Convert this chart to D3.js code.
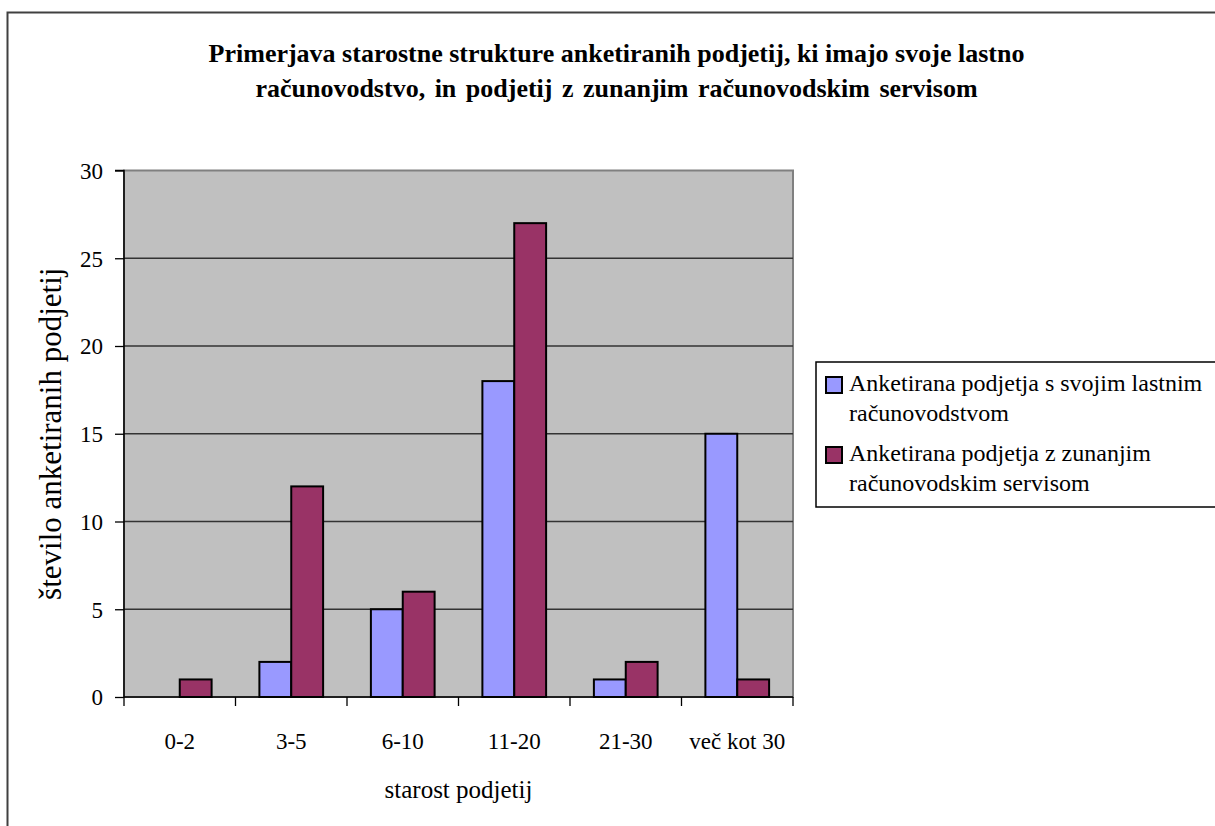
<!DOCTYPE html>
<html>
<head>
<meta charset="utf-8">
<script src="https://cdn.jsdelivr.net/npm/d3@7"></script>
<style>
  html, body { margin: 0; padding: 0; background: #fff; }
  svg { display: block; }
  text { font-family: "Liberation Serif", "Times New Roman", serif; fill: #000; }
</style>
</head>
<body>
<svg id="chart" width="1215" height="826"></svg>
<script>
// Starostne skupine podjetij (leta)
const categories = ["0-2", "3-5", "6-10", "11-20", "21-30", "več kot 30"];
// Podjetja z lastnim računovodstvom
const ownAccounting = [0, 2, 5, 18, 1, 15];
// Podjetja z zunanjim računovodskim servisom
const externalService = [1, 12, 6, 27, 2, 1];
const seriesNames = [
  ["Anketirana podjetja s svojim lastnim", "računovodstvom"],
  ["Anketirana podjetja z zunanjim", "računovodskim servisom"]
];
const seriesColors = ["#9999FF", "#993366"];
const yTicks = [0, 5, 10, 15, 20, 25, 30];
const titleLines = [
  "Primerjava starostne strukture anketiranih podjetij, ki imajo svoje lastno",
  "računovodstvo, in podjetij z zunanjim računovodskim servisom"
];
const xTitle = "starost podjetij";
const yTitle = "število anketiranih podjetij";

const svg = d3.select("#chart");

// chart area frame
svg.append("rect")
  .attr("x", 7.5).attr("y", 12.5)
  .attr("width", 1240).attr("height", 840)
  .attr("fill", "#fff").attr("stroke", "#404040").attr("stroke-width", 2);

// title
svg.append("g").selectAll("text").data(titleLines).join("text")
  .attr("x", 616.5)
  .attr("y", (d, i) => 62 + i * 35)
  .attr("text-anchor", "middle")
  .attr("font-weight", "bold")
  .attr("font-size", 26)
  .attr("word-spacing", (d, i) => i === 1 ? 3 : 0)
  .text(d => d);

const plot = { left: 124, right: 793, top: 170.5, bottom: 697 };

const x0 = d3.scaleBand().domain(categories).range([plot.left, plot.right]).paddingInner(0).paddingOuter(0);
const groupW = x0.bandwidth() * 2 / 3.5;
const x1 = d3.scaleBand().domain([0, 1]).range([0, groupW]);
const y = d3.scaleLinear().domain([0, 30]).range([plot.bottom, plot.top]);

// plot background
svg.append("rect")
  .attr("x", plot.left).attr("y", plot.top)
  .attr("width", plot.right - plot.left).attr("height", plot.bottom - plot.top)
  .attr("fill", "#C0C0C0").attr("stroke", "#808080").attr("stroke-width", 2);

// horizontal gridlines
svg.append("g").selectAll("line").data(yTicks.filter(t => t > 0 && t < 30)).join("line")
  .attr("x1", plot.left).attr("x2", plot.right)
  .attr("y1", d => y(d)).attr("y2", d => y(d))
  .attr("stroke", "#333").attr("stroke-width", 1.3);

// bars
const rows = categories.map((c, i) => ({ c, vals: [ownAccounting[i], externalService[i]] }));
const groups = svg.append("g").selectAll("g").data(rows).join("g")
  .attr("transform", d => `translate(${x0(d.c) + (x0.bandwidth() - groupW) / 2},0)`);
groups.selectAll("rect").data(d => d.vals.map((v, k) => ({ v, k }))).join("rect")
  .attr("x", d => x1(d.k))
  .attr("width", x1.bandwidth())
  .attr("y", d => y(d.v))
  .attr("height", d => y(0) - y(d.v))
  .attr("fill", d => seriesColors[d.k])
  .attr("stroke", "#000").attr("stroke-width", d => d.v > 0 ? 2 : 0);

// y axis
const yAxis = svg.append("g")
  .attr("transform", `translate(${plot.left},0)`)
  .call(d3.axisLeft(y).tickValues(yTicks).tickSize(9).tickPadding(12));
yAxis.selectAll("text").attr("font-size", 23).attr("font-family", '"Liberation Serif", "Times New Roman", serif').attr("dy", "0.34em");
yAxis.selectAll("line").attr("stroke", "#000").attr("stroke-width", 1.3);
yAxis.select(".domain").attr("stroke", "#000").attr("stroke-width", 1.5).attr("d", `M-9,${plot.top}H0V${plot.bottom}`);

// x axis
const xAxis = svg.append("g")
  .attr("transform", `translate(0,${plot.bottom})`)
  .call(d3.axisBottom(x0).tickSize(0).tickPadding(36));
xAxis.selectAll("text").attr("font-size", 23).attr("font-family", '"Liberation Serif", "Times New Roman", serif');
xAxis.select(".domain").attr("stroke", "#000").attr("stroke-width", 1.5).attr("d", `M${plot.left},0H${plot.right}`);
// tick marks at category boundaries
const bounds = categories.map(c => x0(c)).concat([x0(categories[categories.length - 1]) + x0.bandwidth()]);
xAxis.append("g").selectAll("line").data(bounds).join("line")
  .attr("x1", d => d).attr("x2", d => d)
  .attr("y1", 0).attr("y2", 9)
  .attr("stroke", "#000").attr("stroke-width", 1.3);

// axis titles
svg.append("text")
  .attr("x", (plot.left + plot.right) / 2).attr("y", 798)
  .attr("text-anchor", "middle").attr("font-size", 25)
  .text(xTitle);
svg.append("text")
  .attr("transform", `translate(61,${(plot.top + plot.bottom) / 2}) rotate(-90)`)
  .attr("text-anchor", "middle").attr("font-size", 31)
  .text(yTitle);

// legend
const legend = svg.append("g");
legend.append("rect")
  .attr("x", 816).attr("y", 362).attr("width", 420).attr("height", 145)
  .attr("fill", "#fff").attr("stroke", "#000").attr("stroke-width", 1.5);
const items = legend.selectAll("g.item").data(seriesNames).join("g")
  .attr("class", "item")
  .attr("transform", (d, i) => `translate(0,${i * 70})`);
items.append("rect")
  .attr("x", 826).attr("y", 377).attr("width", 16).attr("height", 16)
  .attr("fill", (d, i) => seriesColors[i]).attr("stroke", "#000").attr("stroke-width", 2);
items.selectAll("text").data(d => d).join("text")
  .attr("x", 849).attr("y", (d, j) => 391 + j * 29.5)
  .attr("font-size", 24)
  .text(d => d);
</script>
</body>
</html>
